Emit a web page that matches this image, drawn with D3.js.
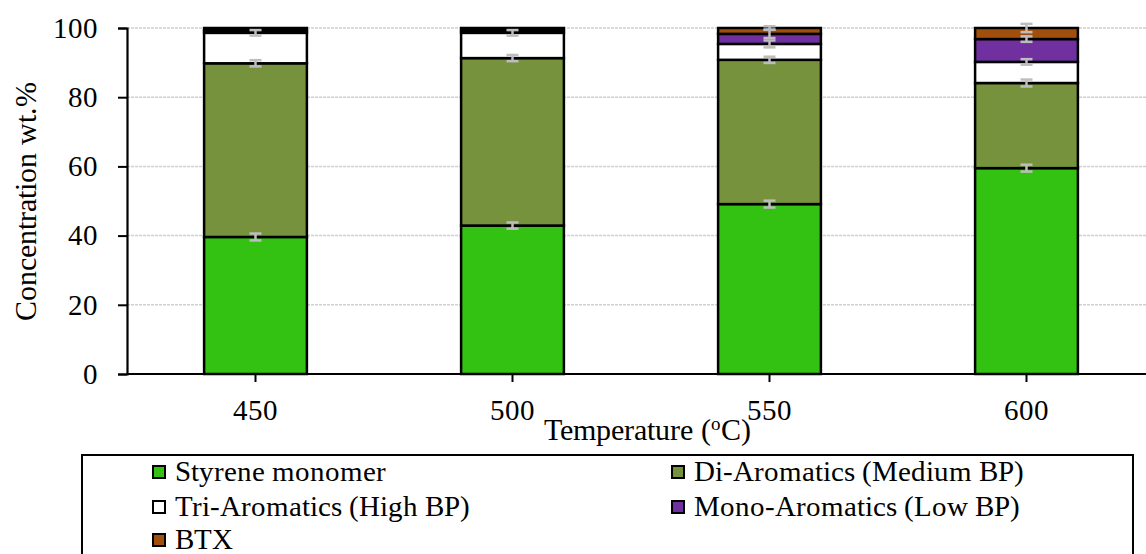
<!DOCTYPE html>
<html>
<head>
<meta charset="utf-8">
<script src="https://cdn.jsdelivr.net/npm/d3@7"></script>
<style>
@font-face { font-family: "ChartSerif"; src: local("Liberation Serif"), local("LiberationSerif"), local("LiberationSerif-Regular"), local("Times New Roman"), local("Tinos"); }
</style>
</head>
<body style="margin:0">
<svg id="chart" width="1146" height="554"></svg>
<script>
// ---- data ----
const categories = ["450", "500", "550", "600"];
const seriesNames = ["Styrene monomer", "Di-Aromatics (Medium BP)", "Tri-Aromatics (High BP)", "Mono-Aromatics (Low BP)", "BTX"];
const styrene = [39.6, 42.9, 49.1, 59.5];
const diAromatics = [50.2, 48.4, 41.7, 24.6];
const triAromatics = [8.8, 7.3, 4.6, 6.1];
const monoAromatics = [0.7, 0.7, 2.9, 6.6];
const btx = [0.7, 0.7, 1.7, 3.2];
const styreneErr = [1.0, 0.9, 1.0, 1.0];
const diErr = [0.9, 0.9, 0.9, 1.0];
const triErr = [0.8, 0.8, 1.0, 0.8];
const monoErr = [0, 0, 1.2, 0.8];
const btxErr = [0, 0, 0.5, 1.2];
const yTicks = [0, 20, 40, 60, 80, 100];
const colors = ["#33c212", "#76923c", "#ffffff", "#7030a0", "#a04f0c"];

(function () {
const FONT = '"ChartSerif", "Liberation Serif", "Times New Roman", Tinos';
const values = [styrene, diAromatics, triAromatics, monoAromatics, btx];
const errors = [styreneErr, diErr, triErr, monoErr, btxErr];
const keys = seriesNames.map((d, i) => "s" + i);
const table = categories.map((c, j) => {
  const row = { cat: c };
  keys.forEach((k, i) => row[k] = values[i][j]);
  return row;
});

const svg = d3.select("#chart").style("font-family", FONT);
const mLeft = 127, mRight = 1155, mTop = 28, mBottom = 374;

const x = d3.scaleBand().domain(categories).range([mLeft, mRight]).paddingInner(0.6).paddingOuter(0.3);
const y = d3.scaleLinear().domain([0, 100]).range([mBottom, mTop]);

// gridlines
svg.append("g").selectAll("line").data(yTicks.filter(t => t > 0)).join("line")
  .attr("x1", mLeft).attr("x2", 1146)
  .attr("y1", d => y(d)).attr("y2", d => y(d))
  .attr("stroke", "#d0d0d0").attr("stroke-width", 1.5).attr("stroke-dasharray", "3,1");

// stacked bars
const stack = d3.stack().keys(keys)(table);
svg.append("g").selectAll("g").data(stack).join("g")
  .attr("fill", (d, i) => colors[i])
  .selectAll("rect").data(d => d).join("rect")
  .attr("x", d => x(d.data.cat))
  .attr("width", x.bandwidth())
  .attr("y", d => y(d[1]))
  .attr("height", d => y(d[0]) - y(d[1]))
  .attr("stroke", "#000").attr("stroke-width", 2.5);

// error bars
const eg = svg.append("g").attr("stroke", "#bdbdbd").attr("stroke-width", 2.5);
stack.forEach((layer, i) => {
  layer.forEach((d, j) => {
    const e = errors[i][j];
    if (!e) return;
    const cx = x(d.data.cat) + x.bandwidth() / 2;
    const y1 = y(d[1] + e), y2 = y(d[1] - e);
    eg.append("line").attr("x1", cx).attr("x2", cx).attr("y1", y1).attr("y2", y2);
    eg.append("line").attr("x1", cx - 6).attr("x2", cx + 6).attr("y1", y1).attr("y2", y1);
    eg.append("line").attr("x1", cx - 6).attr("x2", cx + 6).attr("y1", y2).attr("y2", y2);
  });
});

// y axis
const yAxis = svg.append("g").attr("transform", `translate(${mLeft},0)`)
  .call(d3.axisLeft(y).tickValues(yTicks).tickSize(9).tickPadding(20));
yAxis.attr("font-family", null).attr("font-size", null);
yAxis.select(".domain").attr("stroke", "#000").attr("stroke-width", 2.2);
yAxis.selectAll(".tick line").attr("stroke", "#000").attr("stroke-width", 2);
yAxis.selectAll("text").style("font-family", FONT).attr("font-size", 29).attr("fill", "#000");

// x axis
const xAxis = svg.append("g").attr("transform", `translate(0,${mBottom})`)
  .call(d3.axisBottom(x).tickSize(8).tickPadding(17).tickSizeOuter(0));
xAxis.attr("font-family", null).attr("font-size", null);
xAxis.select(".domain").attr("stroke", "#000").attr("stroke-width", 2.2).attr("d", `M${mLeft},0H1146`);
xAxis.selectAll(".tick line").attr("stroke", "#000").attr("stroke-width", 2);
xAxis.selectAll("text").style("font-family", FONT).attr("font-size", 29).attr("fill", "#000");

// axis titles
const xt = svg.append("text").attr("x", 647).attr("y", 440).attr("text-anchor", "middle")
  .style("font-family", FONT).attr("font-size", 30).attr("fill", "#000");
xt.append("tspan").text("Temperature (");
xt.append("tspan").text("o").attr("font-size", 19).attr("dy", -10);
xt.append("tspan").text("C)").attr("dy", 10);

svg.append("text").attr("transform", "translate(36,201) rotate(-90)").attr("text-anchor", "middle")
  .style("font-family", FONT).attr("font-size", 30).attr("fill", "#000").text("Concentration wt.%");

// legend
svg.append("rect").attr("x", 82).attr("y", 455).attr("width", 1051).attr("height", 120)
  .attr("fill", "none").attr("stroke", "#000").attr("stroke-width", 2);
const legendPos = [[153, 472], [672, 472], [153, 507], [672, 507], [153, 540]];
const lg = svg.append("g").selectAll("g").data(seriesNames).join("g")
  .attr("transform", (d, i) => `translate(${legendPos[i][0]},${legendPos[i][1]})`);
lg.append("rect").attr("x", 0).attr("y", -6).attr("width", 12).attr("height", 12)
  .attr("fill", (d, i) => colors[i]).attr("stroke", "#000").attr("stroke-width", 2);
lg.append("text").attr("x", 22).attr("y", 9).style("font-family", FONT).attr("font-size", 29)
  .attr("fill", "#000").text(d => d);
})();
</script>
</body>
</html>
